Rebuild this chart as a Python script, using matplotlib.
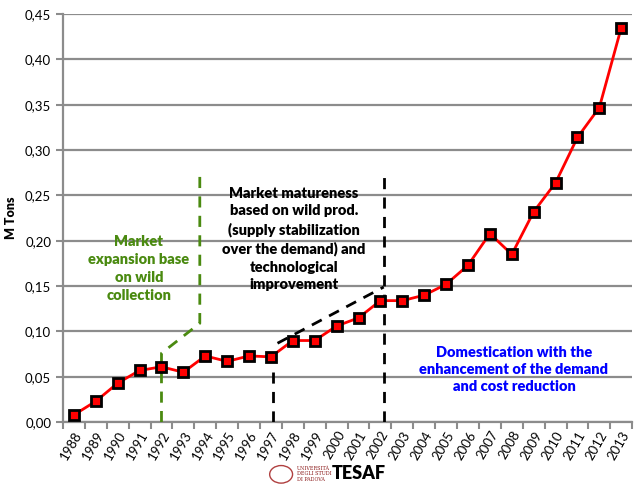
import matplotlib

matplotlib.use('Agg')

import matplotlib.pyplot as plt
from matplotlib.patches import Circle
from matplotlib.ticker import FuncFormatter

years = [str(y) for y in range(1988, 2014)]
tons = [0.008, 0.023, 0.043, 0.057, 0.061, 0.055, 0.073, 0.067, 0.073, 0.072,
        0.090, 0.090, 0.106, 0.115, 0.134, 0.134, 0.140, 0.152, 0.173, 0.208,
        0.185, 0.232, 0.264, 0.314, 0.347, 0.435]

# phase boundaries (category index, value)
green_x = [4, 4, 5.75, 5.75]
green_y = [0.0, 0.076, 0.109, 0.277]
black1_x = [9.1, 9.1]
black1_y = [0.0, 0.062]
black2_x = [9.3, 14.15]
black2_y = [0.087, 0.149]
black3_x = [14.15, 14.15]
black3_y = [0.0, 0.277]

plt.rcParams['font.family'] = ['Lato', 'DejaVu Sans']

fig = plt.figure(figsize=(6.36, 4.88), dpi=100)
ax = fig.add_axes([0.099, 0.135, 0.895, 0.836])

x = list(range(len(years)))
ax.plot(x, tons, color='red', lw=2, marker='s', markersize=7,
        markerfacecolor='red', markeredgecolor='black', markeredgewidth=2, zorder=5)

ax.plot(green_x, green_y, color='#4a8a10', lw=2, ls=(0, (4, 3)), zorder=4)
ax.plot(black1_x, black1_y, color='black', lw=2, ls=(0, (4, 3)), zorder=4)
ax.plot(black2_x, black2_y, color='black', lw=2, ls=(0, (4, 3)), zorder=4)
ax.plot(black3_x, black3_y, color='black', lw=2, ls=(0, (4, 3)), zorder=4)

ax.set_xlim(-0.36, len(years) - 0.73)
ax.set_ylim(0, 0.45)
ax.set_yticks([i * 0.05 for i in range(10)])
ax.yaxis.set_major_formatter(FuncFormatter(lambda v, p: f'{v:.2f}'.replace('.', ',')))
ax.set_xticks(x)
ax.set_xticklabels(years, rotation=60, ha='right', rotation_mode='anchor', fontsize=9.5)
ax.set_xticks([i + 0.5 for i in range(-1, len(years))], minor=True)
ax.tick_params(axis='x', which='major', length=0, pad=5)
ax.tick_params(axis='x', which='minor', length=5, width=1.5, color='#8c8c8c')
ax.tick_params(axis='y', length=5, width=1.5, color='#8c8c8c', labelsize=9.5)

ax.grid(axis='y', color='#8c8c8c', lw=1.6)
ax.set_axisbelow(True)
for s in ['top', 'right']:
    ax.spines[s].set_visible(False)
for s in ['left', 'bottom']:
    ax.spines[s].set_color('#8c8c8c')
    ax.spines[s].set_linewidth(1.6)

ax.set_ylabel('M Tons', fontsize=9, fontweight='heavy', labelpad=6)

ax.text(2.97, 0.169, 'Market\nexpansion base\non wild\ncollection', color='#4a8a10',
        ha='center', va='center', fontsize=10.5, fontweight='heavy', linespacing=1.45)
ax.text(10.05, 0.202, 'Market matureness\nbased on wild prod.\n(supply stabilization\n'
        'over the demand) and\ntechnological\nimprovement', color='black',
        ha='center', va='center', fontsize=10.5, fontweight='heavy', linespacing=1.4)
ax.text(20.1, 0.058, 'Domestication with the\nenhancement of the demand\nand cost reduction',
        color='#0000ff', ha='center', va='center', fontsize=10.5, fontweight='heavy',
        linespacing=1.35)

# footer logos (simplified)
fig.add_artist(Circle((0.442, 0.028), 0.018, transform=fig.transFigure,
                      facecolor='none', edgecolor='#b04040', lw=1))
fig.text(0.467, 0.012, 'UNIVERSITÀ\nDEGLI STUDI\nDI PADOVA', color='#8b1a1a', fontsize=3.5,
         ha='left', va='bottom', family='DejaVu Serif', linespacing=1.2)
fig.text(0.522, 0.012, 'TESAF', color='black', fontsize=13, fontweight='heavy',
         ha='left', va='bottom')

fig.savefig('out.png', dpi=100)
